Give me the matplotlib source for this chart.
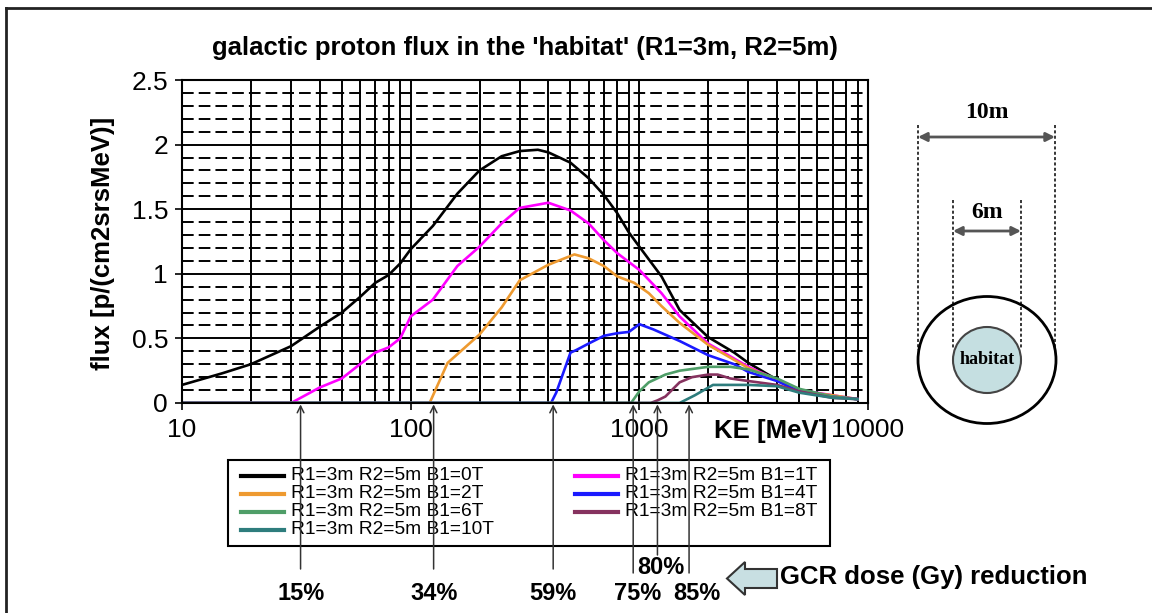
import numpy as np
import matplotlib
matplotlib.use('Agg')
import matplotlib.pyplot as plt
from matplotlib.patches import Ellipse, Polygon, Rectangle
from matplotlib.ticker import MultipleLocator, LogLocator, NullFormatter, FuncFormatter

plt.rcParams['font.family'] = ['Liberation Sans', 'DejaVu Sans']

# kinetic energy [MeV] and flux [p/(cm2 s sr MeV)] for each field B1
ke_0T = [10, 15, 20, 30, 40, 50, 60, 70, 80, 90, 100, 125, 160, 200, 250, 300, 360, 400,
         500, 600, 700, 800, 900, 1000, 1250, 1500, 2000, 2600, 3000, 4000, 5000, 7000, 9000]
flux_0T = [0.14, 0.23, 0.30, 0.44, 0.59, 0.70, 0.82, 0.93, 0.99, 1.08, 1.19, 1.37, 1.62, 1.80,
           1.91, 1.95, 1.96, 1.94, 1.86, 1.74, 1.61, 1.47, 1.32, 1.21, 0.98, 0.72, 0.51, 0.39,
           0.31, 0.18, 0.10, 0.05, 0.03]

ke_1T = [10, 30, 40, 50, 60, 70, 80, 90, 100, 125, 160, 200, 250, 300, 400, 500, 600, 700,
         800, 1000, 1250, 1500, 2000, 3000, 4000, 5000, 7000, 9000]
flux_1T = [0, 0, 0.12, 0.19, 0.30, 0.39, 0.43, 0.50, 0.67, 0.80, 1.06, 1.21, 1.39, 1.51,
           1.55, 1.49, 1.39, 1.26, 1.16, 1.03, 0.85, 0.67, 0.46, 0.28, 0.18, 0.10, 0.06, 0.03]

ke_2T = [10, 121, 145, 200, 250, 300, 400, 520, 600, 700, 800, 950, 1100, 1250, 1500, 2000,
         3000, 4000, 5000, 7000, 9000]
flux_2T = [0, 0, 0.31, 0.53, 0.74, 0.95, 1.07, 1.15, 1.12, 1.06, 0.98, 0.93, 0.85, 0.75,
           0.62, 0.45, 0.27, 0.18, 0.09, 0.06, 0.03]

ke_4T = [10, 411, 433, 500, 530, 600, 700, 800, 900, 1000, 1150, 1500, 2000, 2600, 3000,
         4000, 5000, 7000, 9000]
flux_4T = [0, 0, 0.08, 0.39, 0.41, 0.46, 0.52, 0.54, 0.55, 0.61, 0.57, 0.48, 0.37, 0.30,
           0.24, 0.17, 0.09, 0.05, 0.03]

ke_6T = [10, 920, 1000, 1100, 1300, 1500, 2000, 2500, 3000, 4000, 5000, 7000, 9000]
flux_6T = [0, 0, 0.09, 0.16, 0.22, 0.25, 0.28, 0.28, 0.26, 0.19, 0.11, 0.05, 0.03]

ke_8T = [10, 1120, 1200, 1300, 1500, 1700, 2000, 2200, 2500, 3000, 4000, 5000, 7000, 9000]
flux_8T = [0, 0, 0.02, 0.05, 0.16, 0.20, 0.22, 0.22, 0.19, 0.17, 0.14, 0.09, 0.04, 0.03]

ke_10T = [10, 1500, 1750, 2100, 3000, 4000, 5000, 7000, 9000]
flux_10T = [0, 0, 0.06, 0.14, 0.14, 0.13, 0.08, 0.04, 0.03]

fields = ['0T', '1T', '2T', '4T', '6T', '8T', '10T']
colors = ['#000000', '#ff00ff', '#ee9a30', '#1a1aff', '#4f9e68', '#86325f', '#2e7d7d']
series_ke = [ke_0T, ke_1T, ke_2T, ke_4T, ke_6T, ke_8T, ke_10T]
series_flux = [flux_0T, flux_1T, flux_2T, flux_4T, flux_6T, flux_8T, flux_10T]
legend_order = ['0T', '2T', '6T', '10T', '1T', '4T', '8T']

ke_ticks = [10, 100, 1000, 10000]
ke_tick_labels = ['10', '100', '1000', '10000']

# cut-off energies and GCR dose reduction
cut_ke = [33, 126, 420, 940, 1200, 1650]
cut_lab = ['15%', '34%', '59%', '75%', '80%', '85%']
cut_line_end = [569, 569, 569, 573, 555, 573]   # pixel y of arrow tail
cut_lab_dx = [1, 0, 0, 4, 3, 8]
cut_lab_y = [593, 593, 593, 593, 567, 593]

fig = plt.figure(figsize=(11.52, 6.13), dpi=100)

# overlay in pixel coordinates for frame, legend and sketch
ov = fig.add_axes([0, 0, 1, 1], zorder=0)
ov.set_xlim(0, 1152)
ov.set_ylim(613, 0)
ov.axis('off')

ax = fig.add_axes([182/1152, 1-403/613, 686/1152, 323/613], zorder=1)
lines = {}
for f, ke, fl, c in zip(fields, series_ke, series_flux, colors):
    lines[f], = ax.plot(ke, fl, color=c, lw=1.9)

ax.set_xscale('log')
ax.set_xlim(10, 10000)
ax.set_ylim(0, 2.5)
ax.set_xticks(ke_ticks, labels=ke_tick_labels)
ax.xaxis.set_minor_locator(LogLocator(base=10, subs=np.arange(2, 10)))
ax.xaxis.set_minor_formatter(NullFormatter())
ax.yaxis.set_major_locator(MultipleLocator(0.5))
ax.yaxis.set_minor_locator(MultipleLocator(0.1))
ax.yaxis.set_major_formatter(FuncFormatter(lambda v, p: f'{v:g}'))
ax.set_axisbelow(True)
ax.grid(True, which='major', color='k', lw=1.4)
ax.grid(True, which='minor', axis='x', color='k', lw=1.4)
ax.grid(True, which='minor', axis='y', color='k', lw=1.4, ls=(0, (6, 2.6)))
ax.tick_params(which='minor', length=0)
ax.tick_params(which='major', length=5, width=1.2, labelsize=19, direction='out')
ax.tick_params(axis='x', pad=6)
ax.tick_params(axis='y', pad=5)
for s in ax.spines.values():
    s.set_linewidth(1.5)

fig.text(525/1152, 1-48/613, "galactic proton flux in the 'habitat' (R1=3m, R2=5m)",
         ha='center', va='center', fontsize=18.5, fontweight='bold')
fig.text(103/1152, 1-243/613, 'flux [p/(cm2srsMeV)]', rotation=90,
         ha='center', va='center', fontsize=18.5, fontweight='bold')
fig.text(771/1152, 1-431/613, 'KE [MeV]', ha='center', va='center',
         fontsize=18.5, fontweight='bold')

# arrows marking the cut-off energies
for e, lab, yb, dx, yt in zip(cut_ke, cut_lab, cut_line_end, cut_lab_dx, cut_lab_y):
    ax.annotate('', xy=(e, 0), xytext=(0, -(yb - 403)), textcoords='offset pixels',
                arrowprops=dict(arrowstyle='->', color='#333333', lw=1.1,
                                shrinkA=0, shrinkB=1, mutation_scale=12),
                annotation_clip=False)
    ax.annotate(lab, xy=(e, 0), xytext=(dx, -(yt - 403)), textcoords='offset pixels',
                ha='center', va='center', fontsize=17, fontweight='bold',
                annotation_clip=False)

# frame
ov.plot([6, 6], [8, 613], color='#222222', lw=2)
ov.plot([6, 1152], [8, 8], color='#222222', lw=2)

# legend
ov.add_patch(Rectangle((228, 460), 602, 86, fill=False, lw=1.5, ec='k'))
for i, f in enumerate(legend_order):
    col, row = divmod(i, 4)
    x0 = [241, 575][col]
    y = 475.5 + 18 * row
    ov.plot([x0, x0 + 43], [y, y], color=lines[f].get_color(), lw=3)
    ov.text(x0 + 50, y, 'R1=3m R2=5m B1=' + f, ha='left', va='center', fontsize=13.8)

# GCR dose reduction arrow
ov.add_patch(Polygon([(727, 578.5), (745, 562), (745, 569), (777, 569), (777, 588),
                      (745, 588), (745, 595)], closed=True, fc='#c8dfe2', ec='#333333', lw=1.5))
ov.text(780, 577, 'GCR dose (Gy) reduction', ha='left', va='center',
        fontsize=18.5, fontweight='bold')

# habitat sketch
ov.add_patch(Ellipse((987, 360), 138, 127, fill=False, ec='k', lw=2))
ov.add_patch(Ellipse((987, 360), 68, 66, fc='#c5dfe1', ec='#444444', lw=1.5))
ov.text(987, 360, 'habitat', ha='center', va='center', fontsize=13,
        fontweight='bold', family='Liberation Serif')
for x in [918, 1055]:
    ov.plot([x, x], [125, 350], color='k', lw=1.1, ls=(0, (2, 1.5)))
for x in [953, 1021]:
    ov.plot([x, x], [200, 348], color='k', lw=1.1, ls=(0, (2, 1.5)))
ov.annotate('', xy=(918, 137), xytext=(1055, 137),
            arrowprops=dict(arrowstyle='<|-|>', color='#555555', lw=2,
                            mutation_scale=13, shrinkA=0, shrinkB=0))
ov.annotate('', xy=(953, 231), xytext=(1021, 231),
            arrowprops=dict(arrowstyle='<|-|>', color='#555555', lw=2,
                            mutation_scale=13, shrinkA=0, shrinkB=0))
ov.text(987, 113, '10m', ha='center', va='center', fontsize=17,
        fontweight='bold', family='Liberation Serif')
ov.text(987, 212, '6m', ha='center', va='center', fontsize=17,
        fontweight='bold', family='Liberation Serif')

fig.savefig('out.png', dpi=100)
